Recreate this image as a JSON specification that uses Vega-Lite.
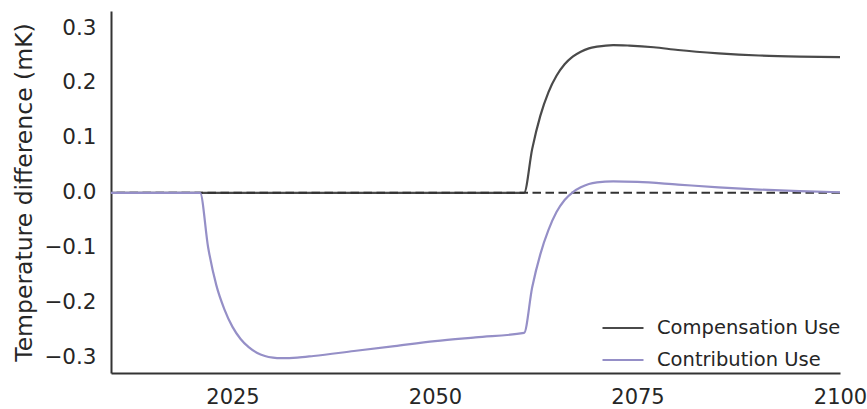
{
  "$schema": "https://vega.github.io/schema/vega-lite/v6.json",
  "width": 729,
  "height": 362,
  "autosize": {"type": "none"},
  "padding": {"left": 111, "top": 11, "right": 27, "bottom": 36},
  "background": "white",
  "config": {
    "view": {"stroke": null},
    "font": "DejaVu Sans",
    "axis": {"domainColor": "#333333", "domainWidth": 2, "ticks": false, "tickSize": 0, "grid": false, "labelFlush": false, "labelColor": "#262626", "titleColor": "#262626", "labelFont": "DejaVu Sans", "titleFont": "DejaVu Sans", "titleFontWeight": "normal"}
  },
  "datasets": {
    "comp": [
      {"year": 2010, "value": 0, "series": "Compensation Use"},
      {"year": 2061, "value": 0, "series": "Compensation Use"},
      {"year": 2062, "value": 0.08, "series": "Compensation Use"},
      {"year": 2063, "value": 0.14, "series": "Compensation Use"},
      {"year": 2064, "value": 0.183, "series": "Compensation Use"},
      {"year": 2065, "value": 0.213, "series": "Compensation Use"},
      {"year": 2066, "value": 0.234, "series": "Compensation Use"},
      {"year": 2067, "value": 0.248, "series": "Compensation Use"},
      {"year": 2068, "value": 0.257, "series": "Compensation Use"},
      {"year": 2069, "value": 0.263, "series": "Compensation Use"},
      {"year": 2070, "value": 0.266, "series": "Compensation Use"},
      {"year": 2072, "value": 0.269, "series": "Compensation Use"},
      {"year": 2074, "value": 0.268, "series": "Compensation Use"},
      {"year": 2077, "value": 0.265, "series": "Compensation Use"},
      {"year": 2080, "value": 0.26, "series": "Compensation Use"},
      {"year": 2085, "value": 0.254, "series": "Compensation Use"},
      {"year": 2090, "value": 0.25, "series": "Compensation Use"},
      {"year": 2095, "value": 0.248, "series": "Compensation Use"},
      {"year": 2100, "value": 0.247, "series": "Compensation Use"}
    ],
    "contrib": [
      {"year": 2010, "value": 0, "series": "Contribution Use"},
      {"year": 2021, "value": 0, "series": "Contribution Use"},
      {"year": 2022, "value": -0.1, "series": "Contribution Use"},
      {"year": 2023, "value": -0.168, "series": "Contribution Use"},
      {"year": 2024, "value": -0.212, "series": "Contribution Use"},
      {"year": 2025, "value": -0.244, "series": "Contribution Use"},
      {"year": 2026, "value": -0.266, "series": "Contribution Use"},
      {"year": 2027, "value": -0.281, "series": "Contribution Use"},
      {"year": 2028, "value": -0.291, "series": "Contribution Use"},
      {"year": 2029, "value": -0.297, "series": "Contribution Use"},
      {"year": 2030, "value": -0.3, "series": "Contribution Use"},
      {"year": 2031, "value": -0.301, "series": "Contribution Use"},
      {"year": 2033, "value": -0.3, "series": "Contribution Use"},
      {"year": 2035, "value": -0.297, "series": "Contribution Use"},
      {"year": 2040, "value": -0.288, "series": "Contribution Use"},
      {"year": 2045, "value": -0.279, "series": "Contribution Use"},
      {"year": 2050, "value": -0.27, "series": "Contribution Use"},
      {"year": 2055, "value": -0.263, "series": "Contribution Use"},
      {"year": 2061, "value": -0.255, "series": "Contribution Use"},
      {"year": 2062, "value": -0.172, "series": "Contribution Use"},
      {"year": 2063, "value": -0.112, "series": "Contribution Use"},
      {"year": 2064, "value": -0.068, "series": "Contribution Use"},
      {"year": 2065, "value": -0.035, "series": "Contribution Use"},
      {"year": 2066, "value": -0.013, "series": "Contribution Use"},
      {"year": 2067, "value": 0.001, "series": "Contribution Use"},
      {"year": 2068, "value": 0.01, "series": "Contribution Use"},
      {"year": 2069, "value": 0.016, "series": "Contribution Use"},
      {"year": 2070, "value": 0.019, "series": "Contribution Use"},
      {"year": 2072, "value": 0.021, "series": "Contribution Use"},
      {"year": 2075, "value": 0.02, "series": "Contribution Use"},
      {"year": 2080, "value": 0.015, "series": "Contribution Use"},
      {"year": 2085, "value": 0.01, "series": "Contribution Use"},
      {"year": 2090, "value": 0.006, "series": "Contribution Use"},
      {"year": 2095, "value": 0.003, "series": "Contribution Use"},
      {"year": 2100, "value": 0.001, "series": "Contribution Use"}
    ],
    "zero": [{"y": 0}]
  },
  "encoding": {
    "x": {"field": "year", "type": "quantitative", "scale": {"domain": [2010, 2100], "nice": false, "zero": false},
      "axis": {"values": [2025, 2050, 2075, 2100], "title": null, "labelFontSize": 21, "labelPadding": 13, "format": "d"}},
    "y": {"field": "value", "type": "quantitative", "scale": {"domain": [-0.328, 0.331], "nice": false, "zero": false},
      "axis": {"values": [-0.3, -0.2, -0.1, 0, 0.1, 0.2, 0.3], "title": "Temperature difference (mK)", "labelFontSize": 21.5, "labelPadding": 15,
        "labelExpr": "replace(format(datum.value, '.1f'), '-', '\u2212')", "titleFontSize": 23.5, "titleX": -80, "titleY": 181, "titleBaseline": "alphabetic", "titleAngle": -90, "titleAlign": "center"}}
  },
  "layer": [
    {
      "data": {"name": "comp"},
      "mark": {"type": "line", "strokeWidth": 2.2, "interpolate": "monotone"},
      "encoding": {
        "color": {"field": "series", "type": "nominal",
          "scale": {"domain": ["Compensation Use", "Contribution Use"], "range": ["#4a4a4a", "#958fc7"]},
          "legend": {"title": null, "orient": "none", "legendX": 490, "legendY": 295, "symbolType": "stroke", "symbolSize": 1681, "symbolStrokeWidth": 2.2, "labelFontSize": 19.5, "labelColor": "#262626", "labelOffset": 12, "labelLimit": 400, "rowPadding": -20, "padding": 0, "labelFont": "DejaVu Sans"}}
      }
    },
    {
      "data": {"name": "zero"},
      "mark": {"type": "rule", "color": "#333333", "strokeWidth": 2, "strokeDash": [8.5, 4.5]},
      "encoding": {"y": {"field": "y", "type": "quantitative"}, "x": null}
    },
    {
      "data": {"name": "contrib"},
      "mark": {"type": "line", "strokeWidth": 2.2, "interpolate": "monotone"},
      "encoding": {
        "color": {"field": "series", "type": "nominal"}
      }
    }
  ]
}
